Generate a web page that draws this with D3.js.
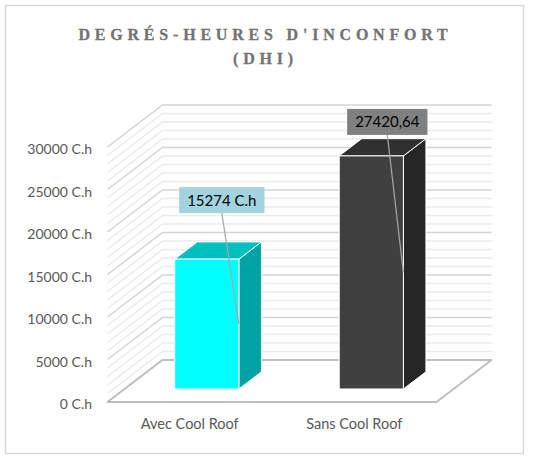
<!DOCTYPE html>
<html>
<head>
<meta charset="utf-8">
<script src="https://cdnjs.cloudflare.com/ajax/libs/d3/7.8.5/d3.min.js"></script>
<style>
  body { margin: 0; background: #fff; }
</style>
</head>
<body>
<div id="chart"></div>
<script>
// data
const categories = ["Avec Cool Roof", "Sans Cool Roof"];
const values = [15274, 27420.64];
const valueLabels = ["15274 C.h", "27420,64"];
const yTicks = [0, 5000, 10000, 15000, 20000, 25000, 30000];
const titleLines = ["DEGRÉS-HEURES D'INCONFORT", "(DHI)"];

// styles
const frontColors = ["#00FFFF", "#404040"];
const sideColors = ["#00A3A3", "#262626"];
const topColors = ["#00BFBF", "#303030"];
const labelFills = ["#A3D3DF", "#808080"];
// where each data label box sits, relative to the bar front top
const labelOffsets = [[15, -59], [16, -34]];

const width = 533, height = 460;
// depth of the 3d box, and where the bars sit inside it
const depthX = 55, depthY = 42;
const t0 = 0.31, t1 = 0.72;

const svgCanvas = d3.select("#chart")
    .append("svg")
    .attr("width", width)
    .attr("height", height);

// background + border
svgCanvas.append("rect").attr("width", width).attr("height", height).attr("fill", "#fff");
svgCanvas.append("rect")
    .attr("x", 5.5).attr("y", 5.5)
    .attr("width", 518).attr("height", 448)
    .attr("fill", "none")
    .attr("stroke", "#d9d9d9")
    .attr("stroke-width", 1.5);

// title
svgCanvas.selectAll(".title")
    .data(titleLines).enter()
    .append("text")
    .attr("class", "title")
    .attr("x", 265.5)
    .attr("y", (d, i) => 39.5 + i * 24.5)
    .attr("text-anchor", "middle")
    .style("font-family", "'Liberation Serif', serif")
    .style("font-weight", "bold")
    .style("font-size", "16px")
    .style("letter-spacing", "4.8px")
    .attr("fill", "#737373")
    .attr("stroke", "#737373")
    .attr("stroke-width", 0.3)
    .text(d => d);

// scales
const x = d3.scaleBand().domain(categories).range([107.5, 436.5]);
const y = d3.scaleLinear().domain([0, 30000]).range([402, 147]);
const x0 = x.range()[0], x1 = x.range()[1];

// side wall + back wall gridlines
const grid = y.ticks(30);
svgCanvas.selectAll(".grid")
    .data(grid).enter()
    .append("path")
    .attr("class", "grid")
    .attr("fill", "none")
    .attr("stroke", d => d % 5000 === 0 ? "#d4d4d4" : "#ececec")
    .attr("stroke-width", 1.5)
    .attr("d", d => d3.line()([
      [x0, y(d)],
      [x0 + depthX, y(d) - depthY],
      [x1 + depthX, y(d) - depthY]
    ]));

// floor
svgCanvas.append("path")
    .attr("fill", "#fff")
    .attr("stroke", "#bfbfbf")
    .attr("stroke-width", 2)
    .attr("stroke-linejoin", "round")
    .attr("d", d3.line()([
      [x0, y(0)], [x1, y(0)],
      [x1 + depthX, y(0) - depthY], [x0 + depthX, y(0) - depthY]
    ]) + "Z");

// y axis labels
svgCanvas.selectAll(".ytick")
    .data(yTicks).enter()
    .append("text")
    .attr("class", "ytick")
    .attr("x", 92)
    .attr("y", d => y(d))
    .attr("dy", "0.5em")
    .attr("text-anchor", "end")
    .style("font-family", "Lato, sans-serif")
    .style("font-size", "14px")
    .attr("fill", "#595959")
    .text(d => d + " C.h");

// category labels
svgCanvas.selectAll(".xtick")
    .data(categories).enter()
    .append("text")
    .attr("class", "xtick")
    .attr("x", d => x(d) + x.bandwidth() / 2)
    .attr("y", y(0) + 27)
    .attr("text-anchor", "middle")
    .style("font-family", "Lato, sans-serif")
    .style("font-size", "14.5px")
    .attr("fill", "#595959")
    .text(d => d);

// bar geometry
const bw = x.bandwidth() * 0.39;
function bar(d, i) {
  const c = categories[i];
  const bx0 = x(c) + x.bandwidth() / 2 - bw / 2, bx1 = bx0 + bw;
  return {
    fx0: bx0 + depthX * t0, fx1: bx1 + depthX * t0,
    bx0: bx0 + depthX * t1, bx1: bx1 + depthX * t1,
    fTop: y(d) - depthY * t0, fBot: y(0) - depthY * t0,
    bTop: y(d) - depthY * t1, bBot: y(0) - depthY * t1
  };
}

const bars = svgCanvas.selectAll(".bar")
    .data(values).enter()
    .append("g")
    .attr("class", "bar");
// side
bars.append("path")
    .attr("fill", (d, i) => sideColors[i])
    .attr("stroke", "#fff").attr("stroke-width", 1)
    .attr("d", (d, i) => {
      const b = bar(d, i);
      return d3.line()([[b.fx1, b.fTop], [b.bx1, b.bTop], [b.bx1, b.bBot], [b.fx1, b.fBot]]) + "Z";
    });
// top
bars.append("path")
    .attr("fill", (d, i) => topColors[i])
    .attr("stroke", "#fff").attr("stroke-width", 1)
    .attr("d", (d, i) => {
      const b = bar(d, i);
      return d3.line()([[b.fx0, b.fTop], [b.bx0, b.bTop], [b.bx1, b.bTop], [b.fx1, b.fTop]]) + "Z";
    });
// front
bars.append("rect")
    .attr("fill", (d, i) => frontColors[i])
    .attr("stroke", "#fff").attr("stroke-width", 1)
    .attr("x", (d, i) => bar(d, i).fx0)
    .attr("y", (d, i) => bar(d, i).fTop)
    .attr("width", bw)
    .attr("height", (d, i) => bar(d, i).fBot - bar(d, i).fTop);

// data labels with leader lines
const labels = svgCanvas.selectAll(".dlabel")
    .data(values).enter()
    .append("g")
    .attr("class", "dlabel");
labels.append("line")
    .attr("stroke", "#a6a6a6")
    .attr("stroke-width", 1.2)
    .attr("x1", (d, i) => (bar(d, i).fx0 + bar(d, i).fx1) / 2 + labelOffsets[i][0])
    .attr("y1", (d, i) => bar(d, i).fTop + labelOffsets[i][1] + 13)
    .attr("x2", (d, i) => bar(d, i).fx1)
    .attr("y2", (d, i) => (bar(d, i).fTop + bar(d, i).fBot) / 2);
labels.append("rect")
    .attr("fill", (d, i) => labelFills[i]);
labels.append("text")
    .attr("x", (d, i) => (bar(d, i).fx0 + bar(d, i).fx1) / 2 + labelOffsets[i][0])
    .attr("y", (d, i) => bar(d, i).fTop + labelOffsets[i][1])
    .attr("dy", "0.36em")
    .attr("text-anchor", "middle")
    .style("font-family", "Lato, sans-serif")
    .style("font-size", "15px")
    .attr("fill", "#000")
    .text((d, i) => valueLabels[i]);
labels.each(function() {
  const g = d3.select(this);
  const t = g.select("text");
  const w = t.node().getComputedTextLength() + 16;
  g.select("rect")
      .attr("x", +t.attr("x") - w / 2)
      .attr("y", +t.attr("y") - 13)
      .attr("width", w)
      .attr("height", 26);
});
</script>
</body>
</html>
